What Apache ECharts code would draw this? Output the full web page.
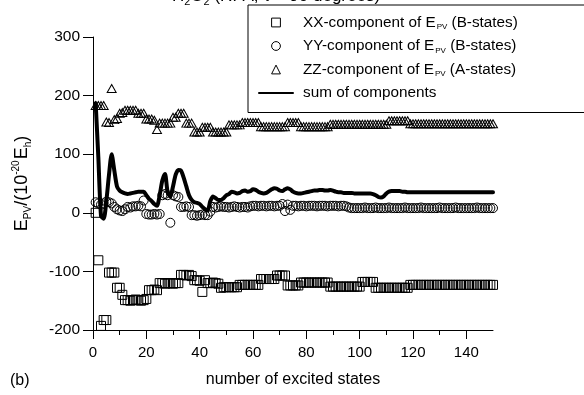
<!DOCTYPE html>
<html>
<head>
<meta charset="utf-8">
<script src="https://cdn.jsdelivr.net/npm/echarts@6/dist/echarts.min.js"></script>
<style>
  html, body { margin: 0; padding: 0; background: #fff; }
  #chart { width: 584px; height: 395px; }
</style>
</head>
<body>
<div id="chart"></div>
<script>
// Excited-state index (1..150)
const states = [
  1,2,3,4,5,6,7,8,9,10,11,12,13,14,15,16,17,18,19,20,
  21,22,23,24,25,26,27,28,29,30,31,32,33,34,35,36,37,38,39,40,
  41,42,43,44,45,46,47,48,49,50,51,52,53,54,55,56,57,58,59,60,
  61,62,63,64,65,66,67,68,69,70,71,72,73,74,75,76,77,78,79,80,
  81,82,83,84,85,86,87,88,89,90,91,92,93,94,95,96,97,98,99,100,
  101,102,103,104,105,106,107,108,109,110,111,112,113,114,115,116,117,118,119,120,
  121,122,123,124,125,126,127,128,129,130,131,132,133,134,135,136,137,138,139,140,
  141,142,143,144,145,146,147,148,149,150
];

// XX-component of E_PV (B-states), 10^-20 Eh
const xxValues = [
  0, -81, -193, -183, -183, -102, -102, -102, -128, -128,
  -140, -149, -149, -150, -149, -148, -149, -150, -149, -147,
  -132, -132, -131, -132, -120, -120, -121, -120, -120, -121,
  -120, -120, -106, -106, -107, -106, -108, -115, -115, -116,
  -135, -115, -120, -120, -119, -120, -121, -128, -127, -127,
  -127, -127, -127, -127, -123, -123, -123, -123, -123, -123,
  -123, -123, -113, -113, -113, -113, -113, -113, -107, -107,
  -107, -107, -124, -124, -124, -124, -124, -119, -119, -119,
  -119, -119, -119, -119, -119, -119, -119, -119, -126, -126,
  -126, -126, -126, -126, -126, -126, -126, -126, -126, -126,
  -118, -118, -118, -118, -118, -128, -128, -128, -128, -128,
  -128, -128, -128, -128, -128, -128, -128, -128, -123, -123,
  -123, -123, -123, -123, -123, -123, -123, -123, -123, -123,
  -123, -123, -123, -123, -123, -123, -123, -123, -123, -123,
  -123, -123, -123, -123, -123, -123, -123, -123, -123, -123
];

// YY-component of E_PV (B-states)
const yyValues = [
  18, 16, 14, 16, 19, 18, 16, 10, 6, 4,
  3, 6, 10, 9, 11, 11, 12, 11, 21, -2,
  -3, -3, -2, -3, -2, 30, 32, 30, -17, 30,
  28, 27, 10, 10, 11, 10, -4, -4, -5, -4,
  -3, -4, -4, 2, 10, 9, 10, 11, 10, 10,
  9, 10, 11, 10, 9, 10, 10, 9, 11, 12,
  12, 11, 12, 12, 11, 12, 12, 11, 12, 12,
  15, 3, 14, 5, 12, 12, 11, 12, 12, 11,
  12, 12, 12, 11, 12, 12, 12, 11, 12, 12,
  12, 11, 12, 12, 11, 9, 8, 8, 8, 8,
  8, 9, 8, 8, 8, 9, 8, 8, 8, 8,
  9, 8, 8, 8, 8, 8, 9, 8, 8, 8,
  8, 8, 9, 8, 8, 8, 8, 8, 8, 9,
  8, 8, 8, 8, 8, 9, 8, 8, 8, 8,
  8, 8, 8, 9, 8, 8, 8, 8, 8, 8
];

// ZZ-component of E_PV (A-states)
const zzValues = [
  183, 183, 183, 183, 155, 154, 212, 159, 161, 170,
  171, 175, 175, 175, 175, 175, 170, 170, 170, 160,
  160, 160, 158, 142, 153, 153, 153, 153, 153, 163,
  163, 170, 170, 170, 153, 153, 153, 138, 138, 138,
  146, 146, 146, 146, 138, 138, 138, 138, 138, 138,
  150, 150, 150, 150, 150, 154, 154, 154, 154, 154,
  154, 154, 147, 147, 147, 147, 147, 147, 147, 147,
  147, 147, 154, 154, 154, 154, 154, 147, 147, 147,
  147, 147, 147, 147, 147, 147, 147, 147, 151, 151,
  151, 151, 151, 151, 151, 151, 151, 151, 151, 151,
  151, 151, 151, 151, 151, 151, 151, 151, 151, 151,
  157, 157, 157, 157, 157, 157, 157, 157, 152, 152,
  152, 152, 152, 152, 152, 152, 152, 152, 152, 152,
  152, 152, 152, 152, 152, 152, 152, 152, 152, 152,
  152, 152, 152, 152, 152, 152, 152, 152, 152, 152
];

// Sum of the three components
const sumValues = [
  187, 95, -5, -10, 20, 65, 100, 72, 45, 38,
  35, 33, 32, 33, 34, 35, 36, 36, 36, 30,
  24, 20, 15, 12, 30, 55, 66, 35, 28, 45,
  65, 73, 72, 60, 45, 30, 22, 18, 17, 15,
  10, 6, 4, 20, 28, 25, 22, 22, 25, 30,
  32, 36, 35, 33, 34, 37, 38, 36, 37, 40,
  39, 36, 34, 33, 34, 37, 40, 42, 41, 38,
  37, 40, 42, 40, 36, 34, 33, 33, 34, 35,
  36, 37, 38, 38, 39, 39, 38, 38, 39, 38,
  36, 35, 35, 34, 34, 34, 34, 33, 33, 33,
  33, 33, 33, 33, 32, 30, 27, 26, 28, 33,
  36, 37, 37, 37, 37, 36, 36, 35, 35, 35,
  35, 35, 35, 35, 35, 35, 35, 35, 35, 35,
  35, 35, 35, 35, 35, 35, 35, 35, 35, 35,
  35, 35, 35, 35, 35, 35, 35, 35, 35, 35
];

const yTicks = [-200, -100, 0, 100, 200, 300];
const xMajorTicks = [0, 20, 40, 60, 80, 100, 120, 140];
const xMinorTicks = [10, 30, 50, 70, 90, 110, 130];

const NAME_XX = 'XX-component of EPV (B-states)';
const NAME_YY = 'YY-component of EPV (B-states)';
const NAME_ZZ = 'ZZ-component of EPV (A-states)';
const NAME_SUM = 'sum of components';

const FONT = 'Liberation Sans, Arial, Helvetica, sans-serif';

function toPairs(values) {
  return values.map((v, i) => [states[i], v]);
}

const markerStyle = { color: 'rgba(0,0,0,0)', borderColor: '#000', borderWidth: 1 };
const hiddenLine = { width: 0, opacity: 0 };

function markerSeries(name, values, symbol, size) {
  return {
    name: name,
    type: 'line',
    data: toPairs(values),
    symbol: symbol,
    symbolSize: size,
    showAllSymbol: true,
    lineStyle: hiddenLine,
    itemStyle: markerStyle,
    emphasis: { disabled: true },
    silent: true,
    z: 2
  };
}

const legendLabels = {};
legendLabels[NAME_XX] = '{t|XX-component of E}{s|PV}{t| (B-states)}';
legendLabels[NAME_YY] = '{t|YY-component of E}{s|PV}{t| (B-states)}';
legendLabels[NAME_ZZ] = '{t|ZZ-component of E}{s|PV}{t| (A-states)}';
legendLabels[NAME_SUM] = '{t|sum of components}';

const chart = echarts.init(document.getElementById('chart'), null, { renderer: 'canvas' });

chart.setOption({
  animation: false,
  backgroundColor: '#fff',
  textStyle: { fontFamily: FONT, color: '#000' },
  grid: { left: 93, right: 91, top: 37, bottom: 65, containLabel: false },
  legend: {
    orient: 'vertical',
    left: 248,
    top: 5,
    padding: [10, 320, 12, 10],
    itemGap: 7.5,
    itemWidth: 34,
    itemHeight: 11,
    borderColor: '#000',
    borderWidth: 1,
    backgroundColor: '#fff',
    selectedMode: false,
    itemStyle: { color: 'rgba(0,0,0,0)', borderColor: '#000', borderWidth: 1 },
    data: [
      { name: NAME_XX },
      { name: NAME_YY },
      { name: NAME_ZZ },
      { name: NAME_SUM, itemStyle: { color: 'rgba(0,0,0,0)', borderWidth: 0 } }
    ],
    formatter: function (name) { return legendLabels[name]; },
    textStyle: {
      padding: [0, 0, 0, 5],
      rich: {
        t: { fontSize: 15.3, fontFamily: FONT, color: '#000' },
        s: { fontSize: 8, fontFamily: FONT, color: '#000', verticalAlign: 'bottom', padding: [0, 0, -1, 1] }
      }
    }
  },
  xAxis: [
    {
      type: 'value',
      min: 0,
      max: 150,
      position: 'bottom',
      axisLine: { show: true, onZero: false, lineStyle: { color: '#000', width: 1 } },
      axisTick: { show: true, length: 9, customValues: xMajorTicks, lineStyle: { color: '#000', width: 1 } },
      axisLabel: { customValues: xMajorTicks, color: '#000', fontSize: 15, margin: 15, fontFamily: FONT },
      splitLine: { show: false },
      name: 'number of excited states',
      nameLocation: 'middle',
      nameGap: 42,
      nameTextStyle: { fontSize: 16, color: '#000', fontFamily: FONT }
    },
    {
      type: 'value',
      min: 0,
      max: 150,
      position: 'bottom',
      axisLine: { show: false, onZero: false },
      axisTick: { show: true, length: 5, customValues: xMinorTicks, lineStyle: { color: '#000', width: 1 } },
      axisLabel: { show: false },
      splitLine: { show: false }
    }
  ],
  yAxis: {
    type: 'value',
    min: yTicks[0],
    max: yTicks[yTicks.length - 1],
    interval: 100,
    axisLine: { show: true, onZero: false, lineStyle: { color: '#000', width: 1 } },
    axisTick: { show: true, length: 10, lineStyle: { color: '#000', width: 1 } },
    axisLabel: { color: '#000', fontSize: 15.5, margin: 13, fontFamily: FONT },
    splitLine: { show: false },
    name: '{e|E}{s|PV}{e|/(10}{u|-20}{e|E}{s|h}{e|)}',
    nameLocation: 'middle',
    nameRotate: 90,
    nameGap: 62,
    nameTextStyle: {
      rich: {
        e: { fontSize: 18, fontFamily: FONT, color: '#000' },
        s: { fontSize: 10, fontFamily: FONT, color: '#000', verticalAlign: 'bottom', padding: [0, 0, -2, 0] },
        u: { fontSize: 10, fontFamily: FONT, color: '#000', verticalAlign: 'top', padding: [-2, 1, 0, 0] }
      }
    }
  },
  graphic: [
    {
      type: 'text',
      left: 10,
      top: 373,
      silent: true,
      style: { text: '(b)', fontSize: 16, fontFamily: FONT, fill: '#000' }
    },
    {
      type: 'text',
      x: 172,
      y: 5,
      silent: true,
      style: {
        text: '{m|H}{s|2}{m|O}{s|2}{m| (RPA, τ = 90 degrees)}',
        verticalAlign: 'bottom',
        rich: {
          m: { fontSize: 17, fontFamily: FONT, fill: '#000' },
          s: { fontSize: 11, fontFamily: FONT, fill: '#000', verticalAlign: 'bottom', padding: [0, 0, -2, 0] }
        }
      }
    }
  ],
  series: [
    markerSeries(NAME_XX, xxValues, 'rect', 9),
    markerSeries(NAME_YY, yyValues, 'circle', 9),
    markerSeries(NAME_ZZ, zzValues, 'triangle', [9, 8]),
    {
      name: NAME_SUM,
      type: 'line',
      data: toPairs(sumValues),
      symbol: 'none',
      smooth: 0.25,
      lineStyle: { width: 4, color: '#000', join: 'round', cap: 'round' },
      itemStyle: { color: '#000' },
      emphasis: { disabled: true },
      silent: true,
      z: 3
    }
  ]
});
</script>
</body>
</html>
